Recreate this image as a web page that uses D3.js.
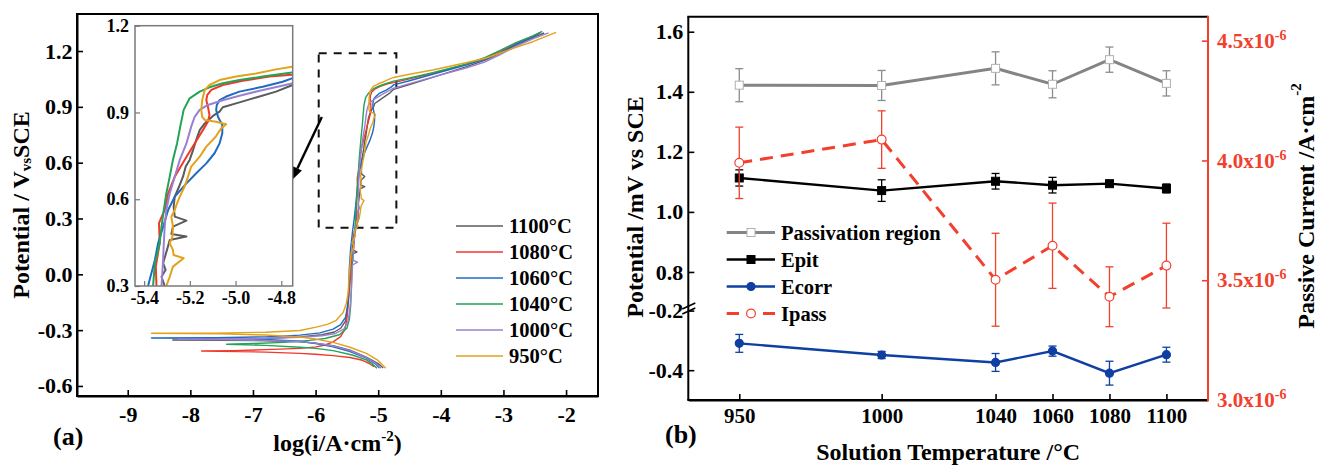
<!DOCTYPE html>
<html>
<head>
<meta charset="utf-8">
<script src="https://cdn.jsdelivr.net/npm/d3@7"></script>
<style>
  html, body { margin: 0; padding: 0; background: #fff; }
  svg { display: block; font-family: "Liberation Serif", "Times New Roman", serif; font-weight: bold; }
  svg text { font-family: "Liberation Serif", "Times New Roman", serif; font-weight: bold; }
</style>
</head>
<body>
<svg id="chart" width="1322" height="466"></svg>
<script>
// ---------- (a) potentiodynamic polarization curves: [log(i), E] along the scan ----------
const tempLabels = ["1100°C", "1080°C", "1060°C", "1040°C", "1000°C", "950°C"];

const curve1100 = [
  [-4.92,-0.504],[-5.00,-0.480],[-5.19,-0.445],[-5.45,-0.408],[-5.72,-0.383],[-6.00,-0.370],[-6.25,-0.363],[-6.80,-0.357],[-7.50,-0.354],[-8.28,-0.353],
  [-7.50,-0.351],[-6.80,-0.345],[-6.25,-0.336],[-5.90,-0.325],[-5.70,-0.310],[-5.60,-0.290],[-5.52,-0.250],[-5.49,-0.180],[-5.47,-0.100],[-5.45,-0.030],[-5.43,0.050],[-5.41,0.110],[-5.34,0.120],[-5.40,0.130],[-5.38,0.200],[-5.35,0.260],[-5.31,0.300],
  [-5.324,0.332],[-5.306,0.356],[-5.317,0.379],[-5.300,0.425],[-5.288,0.459],[-5.215,0.471],[-5.281,0.480],[-5.274,0.505],[-5.215,0.526],[-5.266,0.540],[-5.271,0.574],[-5.266,0.609],[-5.247,0.644],[-5.230,0.678],[-5.218,0.713],[-5.201,0.736],[-5.186,0.770],[-5.172,0.805],[-5.157,0.839],[-5.135,0.862],[-5.099,0.888],[-5.070,0.903],[-5.056,0.918],[-4.983,0.935],[-4.910,0.952],[-4.823,0.972],[-4.753,0.994],
  [-4.50,1.020],[-4.13,1.058],[-3.60,1.115],[-3.30,1.150],[-3.06,1.188],[-2.80,1.232],[-2.53,1.272],[-2.35,1.297]
];
const curve1080 = [
  [-5.07,-0.497],[-5.15,-0.478],[-5.25,-0.462],[-5.45,-0.447],[-5.72,-0.437],[-6.00,-0.430],[-6.25,-0.425],[-6.80,-0.418],[-7.82,-0.412],
  [-7.30,-0.410],[-6.80,-0.405],[-6.25,-0.398],[-5.99,-0.390],[-5.85,-0.380],[-5.72,-0.363],[-5.60,-0.335],[-5.53,-0.295],[-5.50,-0.240],[-5.48,-0.170],[-5.46,-0.080],[-5.44,0.020],[-5.42,0.120],[-5.40,0.200],[-5.36,0.260],[-5.346,0.300],
  [-5.349,0.367],[-5.332,0.448],[-5.335,0.517],[-5.323,0.540],[-5.310,0.563],[-5.295,0.620],[-5.266,0.678],[-5.223,0.736],[-5.179,0.793],[-5.143,0.839],[-5.121,0.868],[-5.114,0.891],[-5.121,0.920],[-5.128,0.943],[-5.124,0.960],[-5.106,0.978],[-5.056,0.995],[-4.968,1.010],[-4.852,1.024],[-4.753,1.030],
  [-4.50,1.050],[-4.13,1.080],[-3.60,1.128],[-3.30,1.160],[-3.06,1.198],[-2.80,1.240],[-2.53,1.280],[-2.40,1.302]
];
const curve1060 = [
  [-4.98,-0.503],[-5.05,-0.480],[-5.19,-0.450],[-5.45,-0.415],[-5.72,-0.390],[-6.00,-0.372],[-6.25,-0.360],[-6.80,-0.350],[-7.60,-0.344],[-8.62,-0.342],
  [-7.60,-0.341],[-6.80,-0.336],[-6.25,-0.327],[-5.93,-0.315],[-5.72,-0.295],[-5.60,-0.270],[-5.52,-0.230],[-5.48,-0.150],[-5.47,-0.060],[-5.46,0.040],[-5.44,0.140],[-5.41,0.230],[-5.383,0.300],
  [-5.353,0.390],[-5.339,0.448],[-5.317,0.505],[-5.295,0.563],[-5.266,0.609],[-5.215,0.655],[-5.172,0.690],[-5.128,0.724],[-5.092,0.759],[-5.070,0.793],[-5.058,0.828],[-5.058,0.857],[-5.077,0.885],[-5.085,0.909],[-5.082,0.926],[-5.070,0.943],[-5.041,0.955],[-4.983,0.972],[-4.881,0.989],[-4.794,1.006],[-4.753,1.018],
  [-4.50,1.040],[-4.13,1.075],[-3.60,1.125],[-3.30,1.155],[-3.06,1.190],[-2.80,1.235],[-2.53,1.275],[-2.42,1.298]
];
const curve1040 = [
  [-5.02,-0.505],[-5.10,-0.480],[-5.19,-0.460],[-5.40,-0.435],[-5.72,-0.410],[-6.00,-0.398],[-6.25,-0.392],[-6.80,-0.382],[-7.42,-0.376],
  [-7.00,-0.372],[-6.50,-0.366],[-6.10,-0.355],[-5.85,-0.345],[-5.62,-0.325],[-5.50,-0.290],[-5.46,-0.240],[-5.44,-0.170],[-5.43,-0.080],[-5.42,0.020],[-5.40,0.120],[-5.38,0.220],[-5.361,0.300],
  [-5.353,0.379],[-5.332,0.448],[-5.324,0.505],[-5.314,0.563],[-5.303,0.620],[-5.288,0.678],[-5.274,0.736],[-5.256,0.793],[-5.242,0.851],[-5.227,0.909],[-5.201,0.949],[-5.157,0.972],[-5.114,0.987],[-5.056,1.001],[-4.983,1.012],[-4.881,1.024],[-4.753,1.038],
  [-4.50,1.055],[-4.13,1.084],[-3.60,1.130],[-3.30,1.165],[-3.06,1.202],[-2.80,1.245],[-2.53,1.281],[-2.38,1.305]
];
const curve1000 = [
  [-4.96,-0.505],[-5.03,-0.480],[-5.19,-0.447],[-5.45,-0.410],[-5.72,-0.385],[-6.00,-0.370],[-6.25,-0.362],[-6.80,-0.355],[-7.50,-0.351],[-8.20,-0.349],
  [-7.50,-0.348],[-6.80,-0.344],[-6.25,-0.338],[-5.90,-0.330],[-5.68,-0.318],[-5.55,-0.295],[-5.48,-0.250],[-5.45,-0.180],[-5.43,-0.100],[-5.42,-0.020],[-5.41,0.050],[-5.33,0.065],[-5.40,0.075],[-5.39,0.150],[-5.37,0.230],[-5.35,0.270],[-5.324,0.300],
  [-5.317,0.390],[-5.314,0.448],[-5.310,0.505],[-5.303,0.563],[-5.288,0.620],[-5.266,0.678],[-5.244,0.736],[-5.215,0.793],[-5.194,0.851],[-5.179,0.885],[-5.157,0.909],[-5.121,0.926],[-5.056,0.942],[-4.983,0.958],[-4.880,0.978],[-4.753,1.000],
  [-4.50,1.025],[-4.13,1.060],[-3.60,1.109],[-3.30,1.140],[-3.06,1.180],[-2.80,1.225],[-2.53,1.265],[-2.28,1.298]
];
const curve950 = [
  [-4.88,-0.505],[-4.95,-0.480],[-5.02,-0.458],[-5.19,-0.425],[-5.45,-0.392],[-5.72,-0.366],[-6.00,-0.348],[-6.25,-0.337],[-6.80,-0.326],[-7.50,-0.320],[-8.62,-0.317],
  [-7.60,-0.316],[-6.80,-0.311],[-6.25,-0.302],[-5.99,-0.284],[-5.80,-0.268],[-5.67,-0.247],[-5.56,-0.205],[-5.51,-0.158],[-5.48,-0.100],[-5.47,-0.030],[-5.45,0.050],[-5.43,0.120],[-5.38,0.150],[-5.42,0.170],[-5.36,0.210],[-5.39,0.230],[-5.32,0.260],[-5.35,0.280],[-5.303,0.300],
  [-5.288,0.332],[-5.274,0.367],[-5.227,0.396],[-5.271,0.407],[-5.274,0.425],[-5.288,0.448],[-5.276,0.471],[-5.274,0.505],[-5.281,0.540],[-5.266,0.563],[-5.256,0.586],[-5.244,0.609],[-5.223,0.644],[-5.208,0.678],[-5.194,0.713],[-5.157,0.747],[-5.128,0.782],[-5.087,0.816],[-5.063,0.845],[-5.041,0.859],[-5.085,0.868],[-5.135,0.874],[-5.146,0.885],[-5.150,0.909],[-5.146,0.943],[-5.135,0.978],[-5.114,0.995],[-5.070,1.012],[-4.997,1.024],[-4.910,1.035],[-4.823,1.049],[-4.753,1.058],
  [-4.50,1.075],[-4.13,1.098],[-3.60,1.137],[-3.30,1.160],[-3.06,1.188],[-2.80,1.220],[-2.53,1.250],[-2.35,1.275],[-2.16,1.300]
];
const curves = [curve1100, curve1080, curve1060, curve1040, curve1000, curve950];

const xTicksA = [-9, -8, -7, -6, -5, -4, -3, -2];
const yTicksA = [-0.6, -0.3, 0.0, 0.3, 0.6, 0.9, 1.2];
const insetXTicks = [-5.4, -5.2, -5.0, -4.8];
const insetYTicks = [0.3, 0.6, 0.9, 1.2];

// ---------- (b) characteristic values vs solution temperature ----------
const temps = [950, 1000, 1040, 1060, 1080, 1100];
const passRegion    = [1.422, 1.421, 1.478, 1.425, 1.507, 1.428];
const passRegionErr = [0.055, 0.050, 0.055, 0.045, 0.042, 0.042];
const epit          = [1.113, 1.071, 1.102, 1.089, 1.094, 1.078];
const epitErr       = [0.027, 0.036, 0.026, 0.026, 0.005, 0.015];
const ecorr         = [-0.310, -0.349, -0.374, -0.336, -0.410, -0.348];
const ecorrErr      = [0.030, 0.012, 0.030, 0.017, 0.040, 0.025];
const ipass         = [3.990e-6, 4.087e-6, 3.502e-6, 3.644e-6, 3.431e-6, 3.561e-6];
const ipassErr      = [0.149e-6, 0.120e-6, 0.194e-6, 0.178e-6, 0.125e-6, 0.177e-6];
const seriesNamesB  = ["Passivation region", "Epit", "Ecorr", "Ipass"];

const yTicksUpper = [0.8, 1.0, 1.2, 1.4, 1.6];
const yTicksLower = [-0.4, -0.2];
const yTicksRight = [3.0e-6, 3.5e-6, 4.0e-6, 4.5e-6];

// ---------- drawing ----------
const svg = d3.select("#chart");
const FONT = '"Liberation Serif", "Times New Roman", serif';
const curveColors = ["#5b5b5b", "#f0392b", "#1f6bc2", "#22a356", "#9a80d2", "#e2a21b"];

function styleAxis(g, size) {
  g.attr("font-family", FONT).attr("font-size", size).attr("font-weight", "bold");
  g.selectAll(".tick text").attr("font-size", size).attr("font-family", FONT).attr("font-weight", "bold").attr("fill", "#000");
  g.selectAll(".tick line").attr("stroke", "#000").attr("stroke-width", 1.6);
  g.select(".domain").attr("stroke", "#000").attr("stroke-width", 2);
  return g;
}

// ===== panel (a) =====
const A = { l: 77, r: 598, t: 14, b: 396 };
const xA = d3.scaleLinear().domain([-9.81, -1.49]).range([A.l, A.r]);
const yA = d3.scaleLinear().domain([-0.654, 1.399]).range([A.b, A.t]);

svg.append("clipPath").attr("id", "clipA")
  .append("rect").attr("x", A.l).attr("y", A.t).attr("width", A.r - A.l).attr("height", A.b - A.t);

const gxA = svg.append("g").attr("transform", `translate(0,${A.b})`)
  .call(d3.axisBottom(xA).tickValues(xTicksA).tickSize(-6).tickSizeOuter(0).tickPadding(10).tickFormat(d => String(d)));
styleAxis(gxA, 22);
const gyA = svg.append("g").attr("transform", `translate(${A.l},0)`)
  .call(d3.axisLeft(yA).tickValues(yTicksA).tickSize(-6).tickSizeOuter(0).tickPadding(4.5).tickFormat(d => d.toFixed(1)));
styleAxis(gyA, 22);

svg.append("rect").attr("x", A.l).attr("y", A.t).attr("width", A.r - A.l).attr("height", A.b - A.t)
  .attr("fill", "none").attr("stroke", "#000").attr("stroke-width", 2);

const lineA = d3.line().x(d => xA(d[0])).y(d => yA(d[1]));
const gCurvesA = svg.append("g").attr("clip-path", "url(#clipA)");

// zoom window marking the passive region
const zoomBox = { x0: -5.95, x1: -4.71, y0: 0.25, y1: 1.188 };
gCurvesA.append("rect")
  .attr("x", xA(zoomBox.x0)).attr("y", yA(zoomBox.y1))
  .attr("width", xA(zoomBox.x1) - xA(zoomBox.x0)).attr("height", yA(zoomBox.y0) - yA(zoomBox.y1))
  .attr("fill", "none").attr("stroke", "#111").attr("stroke-width", 2).attr("stroke-dasharray", "8,7");

curves.forEach((c, i) => {
  gCurvesA.append("path").datum(c).attr("d", lineA)
    .attr("fill", "none").attr("stroke", curveColors[i]).attr("stroke-width", 1.4).attr("stroke-linejoin", "round");
});

// arrow pointing to the inset
const arrowFrom = [-5.90, 0.845], arrowTo = [-6.38, 0.506];
{
  const x1 = xA(arrowFrom[0]), y1 = yA(arrowFrom[1]), x2 = xA(arrowTo[0]), y2 = yA(arrowTo[1]);
  const ang = Math.atan2(y2 - y1, x2 - x1), hl = 13, hw = 5;
  const bx = x2 - hl * Math.cos(ang), by = y2 - hl * Math.sin(ang);
  svg.append("line").attr("x1", x1).attr("y1", y1).attr("x2", bx).attr("y2", by)
    .attr("stroke", "#000").attr("stroke-width", 2.4);
  svg.append("path").attr("fill", "#000")
    .attr("d", `M${x2},${y2}L${bx + hw * Math.sin(ang)},${by - hw * Math.cos(ang)}L${bx - hw * Math.sin(ang)},${by + hw * Math.cos(ang)}Z`);
}

// legend (a)
const legA = svg.append("g");
tempLabels.forEach((lab, i) => {
  const y = 226 + i * 26;
  legA.append("line").attr("x1", 456).attr("x2", 503).attr("y1", y).attr("y2", y)
    .attr("stroke", curveColors[i]).attr("stroke-width", 1.6);
  legA.append("text").attr("x", 509).attr("y", y).attr("dominant-baseline", "central")
    .attr("font-size", 20.5).text(lab);
});

// inset
const I = { l: 135, r: 292.7, t: 25.7, b: 286 };
const xI = d3.scaleLinear().domain([-5.44, -4.75]).range([I.l, I.r]);
const yI = d3.scaleLinear().domain([0.3, 1.2]).range([I.b, I.t]);
svg.append("rect").attr("x", I.l).attr("y", I.t).attr("width", I.r - I.l).attr("height", I.b - I.t).attr("fill", "#fff");
svg.append("clipPath").attr("id", "clipI")
  .append("rect").attr("x", I.l).attr("y", I.t).attr("width", I.r - I.l).attr("height", I.b - I.t);
const lineI = d3.line().x(d => xI(d[0])).y(d => yI(d[1]));
const gCurvesI = svg.append("g").attr("clip-path", "url(#clipI)");
curves.forEach((c, i) => {
  gCurvesI.append("path").datum(c).attr("d", lineI)
    .attr("fill", "none").attr("stroke", curveColors[i]).attr("stroke-width", 2).attr("stroke-linejoin", "round");
});
const gxI = svg.append("g").attr("transform", `translate(0,${I.b})`)
  .call(d3.axisBottom(xI).tickValues(insetXTicks).tickSize(-5).tickSizeOuter(0).tickPadding(5).tickFormat(d => d.toFixed(1)));
styleAxis(gxI, 18);
const gyI = svg.append("g").attr("transform", `translate(${I.l},0)`)
  .call(d3.axisLeft(yI).tickValues(insetYTicks).tickSize(-5).tickSizeOuter(0).tickPadding(6).tickFormat(d => d.toFixed(1)));
styleAxis(gyI, 18);
[gxI, gyI].forEach(g => { g.selectAll(".tick line").attr("stroke", "#777").attr("stroke-width", 1.2); g.select(".domain").remove(); });
svg.append("rect").attr("x", I.l).attr("y", I.t).attr("width", I.r - I.l).attr("height", I.b - I.t)
  .attr("fill", "none").attr("stroke", "#7a7a7a").attr("stroke-width", 1.5);

// titles (a)
svg.append("text").attr("x", 337.5).attr("y", 451).attr("text-anchor", "middle").attr("font-size", 24)
  .call(t => {
    t.append("tspan").text("log(i/A·cm");
    t.append("tspan").attr("dy", -10).attr("font-size", 15).text("-2");
    t.append("tspan").attr("dy", 10).text(")");
  });
svg.append("text").attr("transform", "translate(21,205) rotate(-90)").attr("text-anchor", "middle")
  .attr("dominant-baseline", "central").attr("font-size", 24)
  .call(t => {
    t.append("tspan").text("Potential / V");
    t.append("tspan").attr("dy", 5).attr("font-size", 15).text("vs");
    t.append("tspan").attr("dy", -5).text("SCE");
  });
svg.append("text").attr("x", 53).attr("y", 445).attr("font-size", 26).text("(a)");

// ===== panel (b) =====
const B = { l: 688.3, r: 1208, t: 16.7, b: 400 };
const xB = d3.scaleLinear().domain([932.1, 1114.6]).range([B.l, B.r]);
const yUp = d3.scaleLinear().domain([0.69, 1.65]).range([305, B.t]);
const yLow = d3.scaleLinear().domain([-0.5, -0.19]).range([B.b, 307.6]);
const yR = d3.scaleLinear().domain([3.0e-6, 4.6e-6]).range([B.b, B.t]);

const gxB = svg.append("g").attr("transform", `translate(0,${B.b})`)
  .call(d3.axisBottom(xB).tickValues(temps).tickSize(-6).tickSizeOuter(0).tickPadding(8).tickFormat(d => String(d)));
styleAxis(gxB, 21);
const gyUp = svg.append("g").attr("transform", `translate(${B.l},0)`)
  .call(d3.axisLeft(yUp).tickValues(yTicksUpper).tickSize(-6).tickSizeOuter(0).tickPadding(5).tickFormat(d => d.toFixed(1)));
styleAxis(gyUp, 22);
const gyLow = svg.append("g").attr("transform", `translate(${B.l},0)`)
  .call(d3.axisLeft(yLow).tickValues(yTicksLower).tickSize(-6).tickSizeOuter(0).tickPadding(5).tickFormat(d => d.toFixed(1)));
styleAxis(gyLow, 22);
[gyUp, gyLow].forEach(g => g.select(".domain").remove());

const red = "#f2402e";
const gyR = svg.append("g").attr("transform", `translate(${B.r},0)`)
  .call(d3.axisRight(yR).tickValues(yTicksRight).tickSize(-6).tickSizeOuter(0).tickPadding(9));
styleAxis(gyR, 21);
gyR.selectAll(".tick line").attr("stroke", red).attr("stroke-width", 1.6);
gyR.select(".domain").remove();
gyR.selectAll(".tick text").attr("fill", red).each(function (d) {
  const t = d3.select(this).text(null);
  t.append("tspan").text((d * 1e6).toFixed(1) + "x10");
  t.append("tspan").attr("dy", -8).attr("font-size", 14).text("-6");
});

// frame of (b)
svg.append("line").attr("x1", B.l).attr("x2", B.l).attr("y1", B.t).attr("y2", B.b).attr("stroke", "#000").attr("stroke-width", 2);
svg.append("line").attr("x1", B.l - 1).attr("x2", B.r).attr("y1", B.t).attr("y2", B.t).attr("stroke", "#000").attr("stroke-width", 2);
svg.append("line").attr("x1", B.l - 1).attr("x2", B.r).attr("y1", B.b).attr("y2", B.b).attr("stroke", "#000").attr("stroke-width", 2);
svg.append("line").attr("x1", B.r).attr("x2", B.r).attr("y1", B.t - 1).attr("y2", B.b + 1).attr("stroke", red).attr("stroke-width", 2);
// axis break marks
[0, 5].forEach(o => {
  svg.append("line").attr("x1", B.l - 6).attr("y1", 309 + o).attr("x2", B.l + 7).attr("y2", 303 + o)
    .attr("stroke", "#000").attr("stroke-width", 1.6);
});

const seriesB = [
  { vals: passRegion, err: passRegionErr, y: yUp, color: "#848484", errColor: "#8c8c8c", width: 3, dash: null, mark: "square", fill: "#fff", mstroke: "#b0b0b0" },
  { vals: epit, err: epitErr, y: yUp, color: "#000", errColor: "#000", width: 2.4, dash: null, mark: "square", fill: "#000", mstroke: "#000" },
  { vals: ecorr, err: ecorrErr, y: yLow, color: "#0f3fa2", errColor: "#0f3fa2", width: 2.4, dash: null, mark: "circle", fill: "#0f3fa2", mstroke: "#0f3fa2" },
  { vals: ipass, err: ipassErr, y: yR, color: red, errColor: red, width: 3, dash: "13,8", mark: "circle", fill: "#fff", mstroke: red }
];

function drawMarker(g, mark, x, y, fill, stroke) {
  if (mark === "square") {
    g.append("rect").attr("x", x - 4).attr("y", y - 4).attr("width", 8).attr("height", 8)
      .attr("fill", fill).attr("stroke", stroke).attr("stroke-width", 1);
  } else {
    g.append("circle").attr("cx", x).attr("cy", y).attr("r", fill === "#fff" ? 4.4 : 4)
      .attr("fill", fill).attr("stroke", stroke).attr("stroke-width", 1.2);
  }
}

const gB = svg.append("g");
seriesB.forEach(s => {
  const g = gB.append("g");
  temps.forEach((t, i) => {
    const x = xB(t), y0 = s.y(s.vals[i] - s.err[i]), y1 = s.y(s.vals[i] + s.err[i]);
    g.append("line").attr("x1", x).attr("x2", x).attr("y1", y0).attr("y2", y1).attr("stroke", s.errColor).attr("stroke-width", 1.3);
    [y0, y1].forEach(yy => g.append("line").attr("x1", x - 4).attr("x2", x + 4).attr("y1", yy).attr("y2", yy)
      .attr("stroke", s.errColor).attr("stroke-width", 1.3));
  });
  g.append("path").datum(s.vals)
    .attr("d", d3.line().x((d, i) => xB(temps[i])).y(d => s.y(d)))
    .attr("fill", "none").attr("stroke", s.color).attr("stroke-width", s.width)
    .attr("stroke-dasharray", s.dash);
  s.vals.forEach((v, i) => drawMarker(g, s.mark, xB(temps[i]), s.y(v), s.fill, s.mstroke));
});

// legend (b)
const legB = svg.append("g");
seriesNamesB.forEach((name, i) => {
  const s = seriesB[i], y = 232.5 + i * 27;
  if (s.dash) {
    legB.append("line").attr("x1", 726.7).attr("x2", 739).attr("y1", y).attr("y2", y).attr("stroke", s.color).attr("stroke-width", s.width);
    legB.append("line").attr("x1", 763).attr("x2", 775).attr("y1", y).attr("y2", y).attr("stroke", s.color).attr("stroke-width", s.width);
  } else {
    legB.append("line").attr("x1", 726.7).attr("x2", 775).attr("y1", y).attr("y2", y).attr("stroke", s.color).attr("stroke-width", s.width);
  }
  drawMarker(legB, s.mark, 751, y, s.fill, s.mstroke);
  legB.append("text").attr("x", 781).attr("y", y).attr("dominant-baseline", "central").attr("font-size", 20.5).text(name);
});

// titles (b)
svg.append("text").attr("x", (B.l + B.r) / 2).attr("y", 460).attr("text-anchor", "middle").attr("font-size", 24)
  .text("Solution Temperature /°C");
svg.append("text").attr("transform", "translate(635,207) rotate(-90)").attr("text-anchor", "middle")
  .attr("dominant-baseline", "central").attr("font-size", 24).text("Potential /mV vs SCE");
svg.append("text").attr("transform", "translate(1306,206) rotate(-90)").attr("text-anchor", "middle")
  .attr("dominant-baseline", "central").attr("font-size", 24)
  .call(t => {
    t.append("tspan").text("Passive Current /A·cm");
    t.append("tspan").attr("dy", -10).attr("font-size", 15).text("-2");
  });
svg.append("text").attr("x", 665).attr("y", 443).attr("font-size", 26).text("(b)");
</script>
</body>
</html>
